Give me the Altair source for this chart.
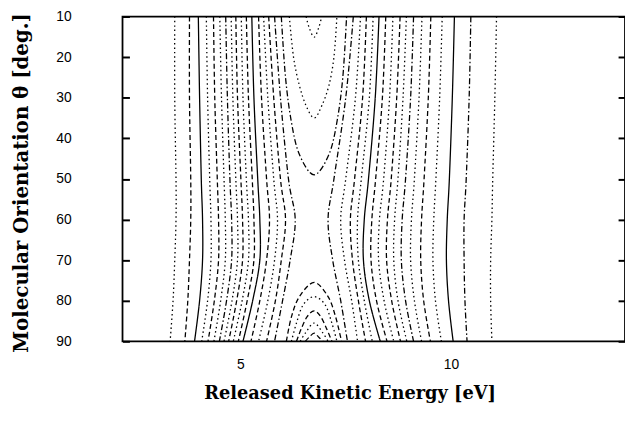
import altair as alt
import pandas as pd

# ---------------- data ----------------
# vertical contour lines: energy [eV] at these orientations [deg]
THETA_V = [10, 30, 50, 60, 70, 80, 90]

L01 = [3.44, 3.44, 3.47, 3.47, 3.44, 3.40, 3.33]
L02 = [3.79, 3.79, 3.82, 3.82, 3.79, 3.75, 3.68]
L03 = [4.00, 4.03, 4.07, 4.10, 4.10, 4.03, 3.91]
L04 = [4.19, 4.22, 4.27, 4.30, 4.30, 4.22, 4.08]
L05 = [4.36, 4.39, 4.45, 4.48, 4.48, 4.38, 4.23]
L06 = [4.51, 4.55, 4.61, 4.64, 4.64, 4.53, 4.37]
L07 = [4.65, 4.69, 4.75, 4.79, 4.79, 4.67, 4.50]
L08 = [4.78, 4.82, 4.89, 4.93, 4.93, 4.80, 4.61]
L09 = [4.89, 4.93, 5.01, 5.05, 5.05, 4.91, 4.72]
L10 = [5.02, 5.06, 5.14, 5.19, 5.19, 5.04, 4.83]
L11 = [5.14, 5.19, 5.28, 5.32, 5.32, 5.16, 4.95]
L12 = [5.27, 5.32, 5.41, 5.46, 5.46, 5.29, 5.06]
L13 = [5.43, 5.50, 5.62, 5.69, 5.62, 5.46, 5.25]
L14 = [5.55, 5.65, 5.79, 5.88, 5.81, 5.65, 5.43]
L15 = [5.67, 5.79, 5.95, 6.07, 5.97, 5.83, 5.62]
L16 = [5.81, 5.95, 6.14, 6.30, 6.18, 6.00, 5.81]

R16 = [7.68, 7.50, 7.22, 7.08, 7.19, 7.38, 7.54]
R15 = [7.85, 7.73, 7.50, 7.38, 7.47, 7.64, 7.78]
R14 = [7.99, 7.90, 7.71, 7.61, 7.66, 7.80, 7.97]
R13 = [8.15, 8.06, 7.87, 7.78, 7.80, 7.94, 8.13]
R12 = [8.29, 8.20, 8.04, 7.94, 7.92, 8.06, 8.32]
R11 = [8.45, 8.37, 8.21, 8.12, 8.10, 8.23, 8.48]
R10 = [8.62, 8.54, 8.40, 8.30, 8.28, 8.41, 8.64]
R09 = [8.79, 8.71, 8.58, 8.49, 8.47, 8.59, 8.80]
R08 = [8.94, 8.86, 8.74, 8.66, 8.64, 8.74, 8.95]
R07 = [9.11, 9.04, 8.92, 8.84, 8.82, 8.92, 9.11]
R06 = [9.31, 9.24, 9.13, 9.06, 9.04, 9.13, 9.30]
R05 = [9.52, 9.46, 9.36, 9.30, 9.28, 9.35, 9.51]
R04 = [9.79, 9.73, 9.64, 9.59, 9.57, 9.63, 9.77]
R03 = [10.08, 10.03, 9.96, 9.91, 9.89, 9.94, 10.05]
R02 = [10.47, 10.43, 10.36, 10.31, 10.31, 10.33, 10.38]
R01 = [11.08, 11.04, 10.99, 10.97, 10.94, 10.94, 10.97]

# U-shaped contours opening to the top
UT1_E = [6.56, 6.63, 6.75, 6.86, 6.93]
UT1_T = [10, 12.7, 15.1, 12.7, 10]
UT2_E = [6.16, 6.26, 6.40, 6.56, 6.75, 6.93, 7.10, 7.22, 7.29]
UT2_T = [10, 20, 27, 32, 35, 32, 27, 20, 10]
UT3_E = [5.97, 6.07, 6.21, 6.40, 6.75, 7.10, 7.29, 7.43, 7.52]
UT3_T = [10, 25, 36, 44, 49, 44, 36, 25, 10]

# arch contours opening to the bottom
UB1_E = [6.09, 6.21, 6.40, 6.75, 7.08, 7.26, 7.40]
UB1_T = [90, 84, 79, 75.5, 79, 84, 90]
UB2_E = [6.21, 6.33, 6.49, 6.75, 7.01, 7.17, 7.29]
UB2_T = [90, 85.5, 81, 79, 81, 85.5, 90]
UB3_E = [6.33, 6.44, 6.58, 6.75, 6.91, 7.05, 7.17]
UB3_T = [90, 87, 84, 82.5, 84, 87, 90]
UB4_E = [6.42, 6.54, 6.75, 6.96, 7.08]
UB4_T = [90, 88, 85.5, 88, 90]
UB5_E = [6.54, 6.63, 6.75, 6.86, 6.96]
UB5_T = [90, 89, 88, 89, 90]

Y_TICKS = [10, 20, 30, 40, 50, 60, 70, 80, 90]
X_TICKS = [5, 10]

STYLES = ["solid", "dashed", "dotted", "dashdot"]
DASHES = [[1, 0], [5, 3], [1.5, 3], [6, 2.5, 1.5, 2.5]]

CONTOURS = [
    ("dotted", L01, THETA_V), ("dashed", L02, THETA_V), ("solid", L03, THETA_V),
    ("dotted", L04, THETA_V), ("dashed", L05, THETA_V), ("dotted", L06, THETA_V),
    ("dashdot", L07, THETA_V), ("dotted", L08, THETA_V), ("dashed", L09, THETA_V),
    ("dotted", L10, THETA_V), ("dashed", L11, THETA_V), ("solid", L12, THETA_V),
    ("dashed", L13, THETA_V), ("dotted", L14, THETA_V), ("dashed", L15, THETA_V),
    ("dashdot", L16, THETA_V),
    ("dashdot", R16, THETA_V), ("dotted", R15, THETA_V), ("dashed", R14, THETA_V),
    ("dotted", R13, THETA_V), ("solid", R12, THETA_V), ("dashed", R11, THETA_V),
    ("dotted", R10, THETA_V), ("dashed", R09, THETA_V), ("dotted", R08, THETA_V),
    ("dashdot", R07, THETA_V), ("dotted", R06, THETA_V), ("dashed", R05, THETA_V),
    ("dotted", R04, THETA_V), ("solid", R03, THETA_V), ("dashdot", R02, THETA_V),
    ("dotted", R01, THETA_V),
    ("dotted", UT1_E, UT1_T), ("dotted", UT2_E, UT2_T), ("dashdot", UT3_E, UT3_T),
    ("dashed", UB1_E, UB1_T), ("dotted", UB2_E, UB2_T), ("dashed", UB3_E, UB3_T),
    ("dotted", UB4_E, UB4_T), ("dashed", UB5_E, UB5_T),
]

rows = []
for cid, (style, es, ts) in enumerate(CONTOURS):
    for i, (e, t) in enumerate(zip(es, ts)):
        rows.append({"cid": cid, "style": style, "order": i, "E": e, "theta": t})
df = pd.DataFrame(rows)

xscale = alt.Scale(domain=[2.2, 14.13], nice=False, zero=False)
yscale = alt.Scale(domain=[10, 90], reverse=True, nice=False, zero=False)

x_axis = alt.Axis(
    values=X_TICKS, ticks=False, domain=False, grid=False,
    labelFont="Liberation Sans", labelFontSize=14, labelColor="black",
    labelPadding=17,
    title="Released Kinetic Energy [eV]", titleFont="DejaVu Serif",
    titleFontSize=18, titleFontWeight="bold", titleColor="black",
    titleX=230, titleY=58, titleAlign="center", titleBaseline="alphabetic")

lines = alt.Chart(df).mark_line(
    color="black", strokeWidth=1.3, interpolate="cardinal", clip=True
).encode(
    x=alt.X("E:Q", scale=xscale, axis=x_axis),
    y=alt.Y("theta:Q", scale=yscale, axis=alt.Axis(
        orient="left", values=Y_TICKS, offset=-7, tickSize=7, tickWidth=2,
        tickColor="black", domain=False, grid=False,
        labelFont="Liberation Sans", labelFontSize=14, labelColor="black",
        labelPadding=52,
        title="Molecular Orientation  θ [deg.]", titleFont="DejaVu Serif",
        titleFontSize=20, titleFontWeight="bold", titleColor="black",
        titleX=-103, titleY=168, titleAngle=270, titleAlign="center",
        titleBaseline="alphabetic")),
    detail="cid:N",
    order="order:Q",
    strokeDash=alt.StrokeDash("style:N", scale=alt.Scale(domain=STYLES, range=DASHES), legend=None),
)

right_ticks = alt.Chart(df).mark_line(opacity=0).encode(
    x=alt.X("E:Q", scale=xscale, axis=x_axis),
    y=alt.Y("theta:Q", scale=yscale, axis=alt.Axis(
        orient="right", values=Y_TICKS, offset=-7, tickSize=7, tickWidth=2,
        tickColor="black", domain=False, grid=False, labels=False, title=None)),
    detail="cid:N",
)

chart = alt.layer(lines, right_ticks).resolve_scale(y="independent").properties(
    width=509, height=329,
    background="white",
    autosize=alt.AutoSizeParams(type="none"),
    padding={"left": 116, "top": 6, "right": 0, "bottom": 70},
).configure_view(stroke="black", strokeWidth=1.8)

chart.save("out.html", embed_options={"renderer": "svg", "actions": False})
